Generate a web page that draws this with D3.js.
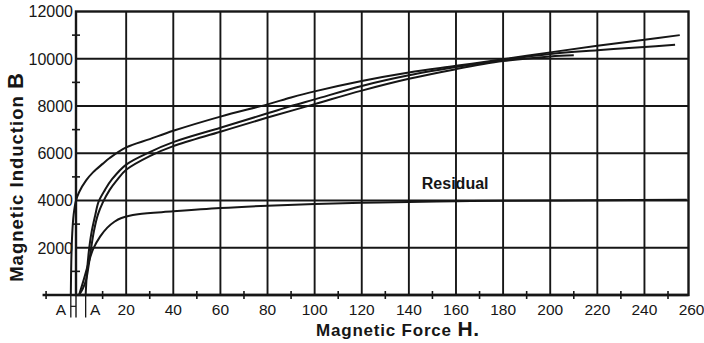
<!DOCTYPE html>
<html>
<head>
<meta charset="utf-8">
<script src="https://cdn.jsdelivr.net/npm/d3@7"></script>
<style>
  body { margin: 0; background: #fff; }
  svg { display: block; font-family: "Liberation Sans", Arial, sans-serif; }
</style>
</head>
<body>
<div id="chart"></div>
<script>
// values: [H, B]
const descending = [[-3.5,0],[-3.3,1400],[-2.9,2600],[-2.3,3400],[-1.3,4000],[0,4350],[3,4850],[6,5200],[10,5550],[13,5800],[20,6250],[30,6600],[40,6950],[60,7550],[80,8070],[90,8360],[100,8620],[120,9060],[140,9420],[160,9700],[180,9980],[200,10270],[220,10550],[240,10800],[255,11000]];
const ascending = [[2.8,0],[3.3,900],[4.1,1800],[5.2,2600],[6.8,3350],[8.3,3950],[11,4450],[14,4900],[20,5520],[30,6050],[40,6470],[60,7080],[80,7690],[90,8000],[100,8280],[120,8850],[140,9300],[160,9650],[180,9950],[200,10200],[220,10360],[240,10500],[253,10590]];
const normal = [[0,0],[1.5,250],[3,650],[4,1200],[5,1900],[6.3,2700],[8,3400],[10,3900],[13,4450],[16,4850],[20,5300],[30,5880],[40,6300],[60,6910],[80,7510],[100,8080],[120,8650],[140,9150],[160,9560],[180,9900],[200,10100],[210,10150]];
const residual = [[0,0],[2,650],[4,1350],[6,1950],[9,2480],[12,2850],[15,3100],[18,3260],[25,3420],[40,3540],[60,3680],[80,3780],[100,3850],[120,3900],[140,3940],[160,3970],[180,3990],[220,4010],[258,4030]];

const hTicks = [20, 40, 60, 80, 100, 120, 140, 160, 180, 200, 220, 240, 260];
const hMinor = [-14, 10, 30, 50, 70, 90, 110, 130, 150, 170, 190, 210, 230, 250];
const bTicks = [2000, 4000, 6000, 8000, 10000, 12000];
const bMinor = [1000, 3000, 5000, 7000, 9000, 11000];
const coercive = [-3.5, 2.8];
const pointLabels = [["A", -7.7], ["A", 6.8]];
const residualLabel = { text: "Residual", h: 145.5, b: 4470 };

const W = 704, H = 343;
const hMin = -1.3, hMax = 258.7;

const svg = d3.select('#chart').append('svg')
    .attr('width', W)
    .attr('height', H);

const x = d3.scaleLinear().domain([hMin, hMax]).range([76, 688.5]);
const y = d3.scaleLinear().domain([0, 12000]).range([295, 11.5]);

const ink = '#161616';

// grid
svg.append('g').selectAll('line')
    .data(hTicks.filter(d => d < hMax))
    .join('line')
    .attr('x1', d => x(d)).attr('x2', d => x(d))
    .attr('y1', y(12000)).attr('y2', y(0))
    .attr('stroke', ink).attr('stroke-width', 1.9);

svg.append('g').selectAll('line')
    .data(bTicks.filter(d => d < 12000))
    .join('line')
    .attr('x1', x(hMin)).attr('x2', x(hMax))
    .attr('y1', d => y(d)).attr('y2', d => y(d))
    .attr('stroke', ink).attr('stroke-width', 1.9);

// frame
svg.append('rect')
    .attr('x', x(hMin)).attr('y', y(12000))
    .attr('width', x(hMax) - x(hMin)).attr('height', y(0) - y(12000))
    .attr('fill', 'none').attr('stroke', ink).attr('stroke-width', 2.4);

// H axis runs out to the left, B axis runs below
svg.append('line')
    .attr('x1', x(-15.5)).attr('x2', x(hMax))
    .attr('y1', y(0)).attr('y2', y(0))
    .attr('stroke', ink).attr('stroke-width', 2.4);
svg.append('line')
    .attr('x1', x(hMin)).attr('x2', x(hMin))
    .attr('y1', y(-950)).attr('y2', y(0))
    .attr('stroke', ink).attr('stroke-width', 1.4);

// minor ticks
svg.append('g').selectAll('line')
    .data(hMinor)
    .join('line')
    .attr('x1', d => x(d)).attr('x2', d => x(d))
    .attr('y1', y(0) - 4).attr('y2', y(0) + 4)
    .attr('stroke', ink).attr('stroke-width', 1.6);

svg.append('g').selectAll('line')
    .data(bMinor)
    .join('line')
    .attr('x1', x(hMin) - 4).attr('x2', x(hMin) + 4)
    .attr('y1', d => y(d)).attr('y2', d => y(d))
    .attr('stroke', ink).attr('stroke-width', 1.6);

// coercive force markers A
svg.append('g').selectAll('line')
    .data(coercive)
    .join('line')
    .attr('x1', d => x(d)).attr('x2', d => x(d))
    .attr('y1', y(-950)).attr('y2', y(0))
    .attr('stroke', ink).attr('stroke-width', 1.3);
svg.append('line')
    .attr('x1', x(coercive[0])).attr('x2', x(hMin))
    .attr('y1', y(-480)).attr('y2', y(-480))
    .attr('stroke', ink).attr('stroke-width', 1.2);

// curves
const line = d3.line()
    .x(d => x(d[0]))
    .y(d => y(d[1]))
    .curve(d3.curveCatmullRom.alpha(0.5));

svg.append('g').selectAll('path')
    .data([descending, ascending, normal, residual])
    .join('path')
    .attr('d', line)
    .attr('fill', 'none')
    .attr('stroke', ink)
    .attr('stroke-width', 2)
    .attr('stroke-linejoin', 'round');

// tick labels
svg.append('g').selectAll('text')
    .data(hTicks)
    .join('text')
    .attr('x', d => x(d))
    .attr('y', 315)
    .attr('text-anchor', 'middle')
    .attr('font-size', 15.5)
    .attr('fill', ink)
    .text(d => d);

svg.append('g').selectAll('text')
    .data(pointLabels)
    .join('text')
    .attr('x', d => x(d[1]))
    .attr('y', 315)
    .attr('text-anchor', 'middle')
    .attr('font-size', 15.5)
    .attr('fill', ink)
    .text(d => d[0]);

svg.append('g').selectAll('text')
    .data(bTicks)
    .join('text')
    .attr('x', 73)
    .attr('y', d => y(d))
    .attr('dy', '0.36em')
    .attr('text-anchor', 'end')
    .attr('font-size', 16)
    .attr('fill', ink)
    .text(d => d);

// residual label
svg.append('text')
    .attr('x', x(residualLabel.h))
    .attr('y', y(residualLabel.b))
    .attr('font-size', 16)
    .attr('font-weight', 'bold')
    .attr('fill', ink)
    .text(residualLabel.text);

// axis titles
const xt = svg.append('text')
    .attr('x', 398).attr('y', 336)
    .attr('text-anchor', 'middle')
    .attr('font-size', 17)
    .attr('font-weight', 'bold')
    .attr('letter-spacing', 0.8)
    .attr('fill', ink);
xt.append('tspan').text('Magnetic Force ');
xt.append('tspan').attr('font-size', 21).text('H.');

const yt = svg.append('text')
    .attr('transform', 'translate(23,177) rotate(-90)')
    .attr('text-anchor', 'middle')
    .attr('font-size', 18.5)
    .attr('font-weight', 'bold')
    .attr('letter-spacing', 1)
    .attr('fill', ink);
yt.append('tspan').text('Magnetic Induction ');
yt.append('tspan').attr('font-size', 22).text('B');
</script>
</body>
</html>
